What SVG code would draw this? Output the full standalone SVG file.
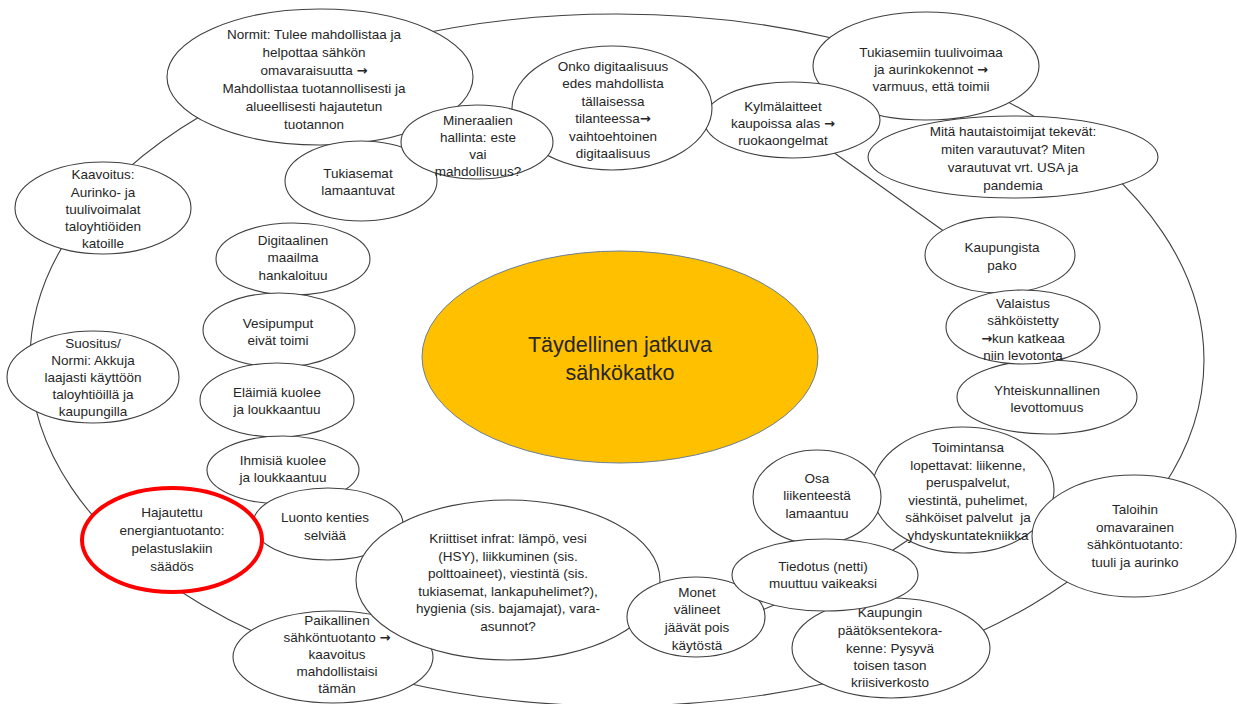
<svg xmlns="http://www.w3.org/2000/svg" width="1237" height="704" viewBox="0 0 1237 704">
<style>
.n{fill:#ffffff;stroke:#404040;stroke-width:1.1}
.t{font-family:"Liberation Sans",Arial,sans-serif;font-size:13.5px;fill:#262626;text-anchor:middle}
.a{font-family:"DejaVu Sans",sans-serif;font-weight:bold;font-size:13px}
.c{fill:none;stroke:#404040;stroke-width:1.1}
</style>
<rect width="1237" height="704" fill="#ffffff"/>
<g id="connectors">
<ellipse class="c" cx="617" cy="360" rx="587" ry="346"/>
<line class="c" x1="833" y1="152" x2="945" y2="232"/>
<line class="c" x1="893" y1="550" x2="914" y2="536"/>
<line class="c" x1="762" y1="610" x2="779" y2="603"/>
</g>
<g id="n-tukiasemiin"><ellipse class="n" cx="926" cy="66" rx="113" ry="54"/>
<text class="t"><tspan x="931" y="57">Tukiasemiin tuulivoimaa</tspan><tspan x="931" y="74">ja aurinkokennot <tspan class="a">→</tspan></tspan><tspan x="931" y="91">varmuus, että toimii</tspan></text></g>
<g id="n-mita"><ellipse class="n" cx="1013" cy="157" rx="145" ry="41"/>
<text class="t"><tspan x="1013" y="136">Mitä hautaistoimijat tekevät:</tspan><tspan x="1013" y="154">miten varautuvat? Miten</tspan><tspan x="1013" y="172">varautuvat vrt. USA ja</tspan><tspan x="1013" y="190">pandemia</tspan></text></g>
<g id="n-kylmalaitteet"><ellipse class="n" cx="792" cy="120" rx="88" ry="38"/>
<text class="t"><tspan x="783" y="111">Kylmälaitteet</tspan><tspan x="783" y="128">kaupoissa alas <tspan class="a">→</tspan></tspan><tspan x="783" y="145">ruokaongelmat</tspan></text></g>
<g id="n-normit"><ellipse class="n" cx="320" cy="77" rx="153" ry="68"/>
<text class="t"><tspan x="314" y="39">Normit: Tulee mahdollistaa ja</tspan><tspan x="314" y="57">helpottaa sähkön</tspan><tspan x="314" y="75">omavaraisuutta <tspan class="a">→</tspan></tspan><tspan x="314" y="93">Mahdollistaa tuotannollisesti ja</tspan><tspan x="314" y="111">alueellisesti hajautetun</tspan><tspan x="314" y="129">tuotannon</tspan></text></g>
<g id="n-onko"><ellipse class="n" cx="612" cy="108" rx="100" ry="62"/>
<text class="t"><tspan x="613" y="71">Onko digitaalisuus</tspan><tspan x="613" y="88">edes mahdollista</tspan><tspan x="613" y="106">tällaisessa</tspan><tspan x="613" y="123">tilanteessa<tspan class="a">→</tspan></tspan><tspan x="613" y="141">vaihtoehtoinen</tspan><tspan x="613" y="158">digitaalisuus</tspan></text></g>
<g id="n-tukiasemat"><ellipse class="n" cx="361" cy="181" rx="76" ry="40"/>
<text class="t"><tspan x="358" y="178">Tukiasemat</tspan><tspan x="358" y="195">lamaantuvat</tspan></text></g>
<g id="n-mineraalien"><ellipse class="n" cx="477" cy="142" rx="76" ry="37"/>
<text class="t"><tspan x="478" y="125">Mineraalien</tspan><tspan x="478" y="142">hallinta: este</tspan><tspan x="478" y="159">vai</tspan><tspan x="478" y="176">mahdollisuus?</tspan></text></g>
<g id="n-kaavoitus"><ellipse class="n" cx="103" cy="208" rx="88" ry="46"/>
<text class="t"><tspan x="103" y="179">Kaavoitus:</tspan><tspan x="103" y="197">Aurinko- ja</tspan><tspan x="103" y="214">tuulivoimalat</tspan><tspan x="103" y="231">taloyhtiöiden</tspan><tspan x="103" y="248">katoille</tspan></text></g>
<g id="n-suositus"><ellipse class="n" cx="93" cy="377" rx="86" ry="46"/>
<text class="t"><tspan x="93" y="348">Suositus/</tspan><tspan x="93" y="365">Normi: Akkuja</tspan><tspan x="93" y="382">laajasti käyttöön</tspan><tspan x="93" y="399">taloyhtiöillä ja</tspan><tspan x="93" y="416">kaupungilla</tspan></text></g>
<g id="n-digitaalinen"><ellipse class="n" cx="293" cy="259" rx="77" ry="36"/>
<text class="t"><tspan x="293" y="245">Digitaalinen</tspan><tspan x="293" y="262">maailma</tspan><tspan x="293" y="280">hankaloituu</tspan></text></g>
<g id="n-vesipumput"><ellipse class="n" cx="279" cy="330" rx="76" ry="37"/>
<text class="t"><tspan x="278" y="328">Vesipumput</tspan><tspan x="278" y="345">eivät toimi</tspan></text></g>
<g id="n-elaimia"><ellipse class="n" cx="277" cy="400" rx="77" ry="37"/>
<text class="t"><tspan x="277" y="397">Eläimiä kuolee</tspan><tspan x="277" y="414">ja loukkaantuu</tspan></text></g>
<g id="n-ihmisia"><ellipse class="n" cx="283" cy="470" rx="76" ry="34"/>
<text class="t"><tspan x="283" y="465">Ihmisiä kuolee</tspan><tspan x="283" y="482">ja loukkaantuu</tspan></text></g>
<g id="n-luonto"><ellipse class="n" cx="328" cy="524" rx="75" ry="36"/>
<text class="t"><tspan x="325" y="522">Luonto kenties</tspan><tspan x="325" y="540">selviää</tspan></text></g>
<g id="n-hajautettu"><ellipse cx="172" cy="540" rx="90" ry="52" fill="#ffffff" stroke="#ff0000" stroke-width="4"/>
<text class="t"><tspan x="172" y="517">Hajautettu</tspan><tspan x="172" y="535">energiantuotanto:</tspan><tspan x="172" y="553">pelastuslakiin</tspan><tspan x="172" y="571">säädös</tspan></text></g>
<g id="n-paikallinen"><ellipse class="n" cx="333" cy="657" rx="100" ry="46"/>
<text class="t"><tspan x="337" y="625">Paikallinen</tspan><tspan x="337" y="642">sähköntuotanto <tspan class="a">→</tspan></tspan><tspan x="337" y="659">kaavoitus</tspan><tspan x="337" y="676">mahdollistaisi</tspan><tspan x="337" y="693">tämän</tspan></text></g>
<g id="n-kriittiset"><ellipse class="n" cx="508" cy="580" rx="152" ry="80"/>
<text class="t"><tspan x="508" y="543">Kriittiset infrat: lämpö, vesi</tspan><tspan x="508" y="561">(HSY), liikkuminen (sis.</tspan><tspan x="508" y="578">polttoaineet), viestintä (sis.</tspan><tspan x="508" y="596">tukiasemat, lankapuhelimet?),</tspan><tspan x="508" y="613">hygienia (sis. bajamajat), vara-</tspan><tspan x="508" y="631">asunnot?</tspan></text></g>
<g id="n-kaupungista"><ellipse class="n" cx="1000" cy="255" rx="75" ry="38"/>
<text class="t"><tspan x="1002" y="252">Kaupungista</tspan><tspan x="1002" y="270">pako</tspan></text></g>
<g id="n-toimintansa"><ellipse class="n" cx="963" cy="490" rx="91" ry="63"/>
<text class="t"><tspan x="968" y="452">Toimintansa</tspan><tspan x="968" y="470">lopettavat: liikenne,</tspan><tspan x="968" y="487">peruspalvelut,</tspan><tspan x="968" y="505">viestintä, puhelimet,</tspan><tspan x="968" y="522">sähköiset palvelut&#160; ja</tspan><tspan x="968" y="540">yhdyskuntatekniikka</tspan></text></g>
<g id="n-yhteiskunnallinen"><ellipse class="n" cx="1047" cy="397" rx="90" ry="37"/>
<text class="t"><tspan x="1047" y="395">Yhteiskunnallinen</tspan><tspan x="1047" y="412">levottomuus</tspan></text></g>
<g id="n-valaistus"><ellipse class="n" cx="1023" cy="327" rx="77" ry="37"/>
<text class="t"><tspan x="1023" y="308">Valaistus</tspan><tspan x="1023" y="325">sähköistetty</tspan><tspan x="1023" y="343"><tspan class="a">→</tspan>kun katkeaa</tspan><tspan x="1023" y="360">niin levotonta</tspan></text></g>
<g id="n-taloihin"><ellipse class="n" cx="1134" cy="536" rx="102" ry="61"/>
<text class="t"><tspan x="1135" y="514">Taloihin</tspan><tspan x="1135" y="532">omavarainen</tspan><tspan x="1135" y="549">sähköntuotanto:</tspan><tspan x="1135" y="567">tuuli ja aurinko</tspan></text></g>
<g id="n-osa"><ellipse class="n" cx="817" cy="497" rx="64" ry="47"/>
<text class="t"><tspan x="817" y="483">Osa</tspan><tspan x="817" y="500">liikenteestä</tspan><tspan x="817" y="518">lamaantuu</tspan></text></g>
<g id="n-kaupungin"><ellipse class="n" cx="891" cy="648" rx="99" ry="50"/>
<text class="t"><tspan x="890" y="617">Kaupungin</tspan><tspan x="890" y="635">päätöksentekora-</tspan><tspan x="890" y="653">kenne: Pysyvä</tspan><tspan x="890" y="670">toisen tason</tspan><tspan x="890" y="687">kriisiverkosto</tspan></text></g>
<g id="n-monet"><ellipse class="n" cx="696" cy="617" rx="69" ry="40"/>
<text class="t"><tspan x="697" y="597">Monet</tspan><tspan x="697" y="614">välineet</tspan><tspan x="697" y="632">jäävät pois</tspan><tspan x="697" y="650">käytöstä</tspan></text></g>
<g id="n-tiedotus"><ellipse class="n" cx="825" cy="575" rx="93" ry="36"/>
<text class="t"><tspan x="823" y="571">Tiedotus (netti)</tspan><tspan x="823" y="588">muuttuu vaikeaksi</tspan></text></g>
<g id="n-center"><ellipse cx="620" cy="357" rx="198" ry="106" fill="#ffc000" stroke="#6b7f99" stroke-width="1"/>
<text class="t" style="font-size:21.5px"><tspan x="620" y="352">Täydellinen jatkuva</tspan><tspan x="620" y="380">sähkökatko</tspan></text></g>
</svg>
